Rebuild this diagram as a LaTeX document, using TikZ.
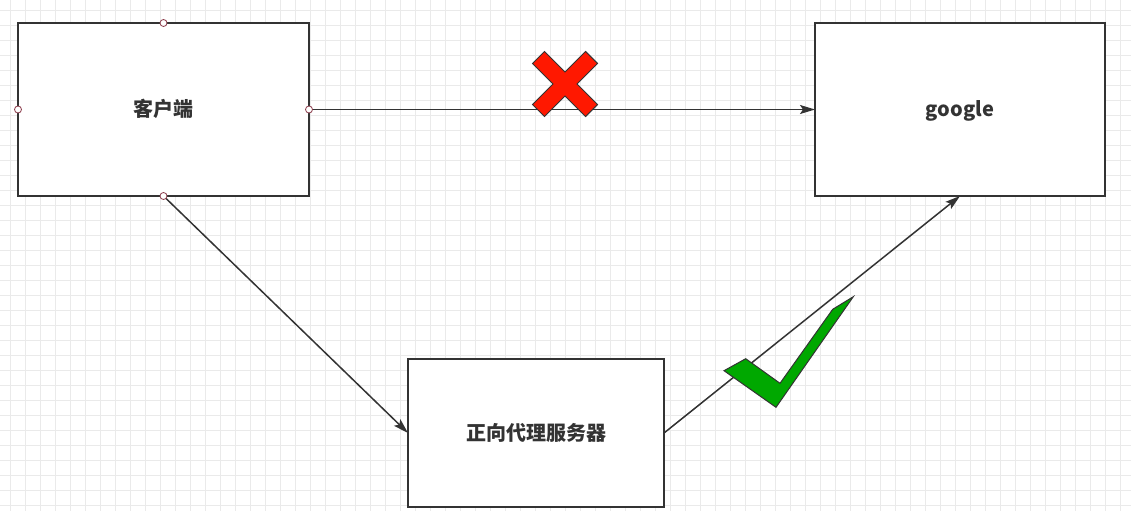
\documentclass[tikz,border=0pt]{standalone}
\usepackage{fontspec}
\setmainfont{Noto Sans CJK SC}
\usetikzlibrary{arrows.meta}

\definecolor{gridline}{RGB}{234,234,234}
\definecolor{linedark}{RGB}{51,51,51}
\definecolor{crossred}{RGB}{255,24,0}
\definecolor{checkgreen}{RGB}{0,168,0}
\definecolor{portred}{RGB}{140,60,75}

\begin{document}
\begin{tikzpicture}[x = 1pt, y = -1pt,
    box/.style = {draw = linedark, line width = 2pt, fill = white,
        inner sep = 0pt, outer sep = 0pt, text height = 17pt, text depth = 3pt,
        font = \bfseries\fontsize{20}{24}\selectfont, text = linedark},
    link/.style = {draw = linedark, line width = 1.5pt,
        -{Stealth[length = 15pt, width = 9pt, inset = 3pt]}},
    port/.style = {circle, draw = portred, fill = white, line width = 0.8pt,
        inner sep = 0pt, minimum size = 7pt}]
    \useasboundingbox (0, 0) rectangle (1131, 511);
    \fill[white] (0, 0) rectangle (1131, 511);

    % grid
    \foreach \gx in {10, 25, ..., 1130}
        \draw[gridline, line width = 0.8pt] (\gx, 0) -- (\gx, 511);
    \foreach \gy in {10, 25, ..., 510}
        \draw[gridline, line width = 0.8pt] (0, \gy) -- (1131, \gy);

    % boxes
    \node[box, minimum width = 291pt, minimum height = 173pt] (client) at (163.5, 109.5) {客户端};
    \node[box, minimum width = 290pt, minimum height = 173pt] (google) at (960, 109.5) {google};
    \node[box, minimum width = 256pt, minimum height = 148pt] (proxy) at (536, 433) {正向代理服务器};

    % connectors
    \draw[link] (client.east) -- (google.west);
    \draw[link] (client.south) -- (proxy.west);
    \draw[link] (proxy.east) -- (google.south);

    % ports of the client box
    \foreach \side in {north, south, east, west}
        \node[port] at (client.\side) {};

    % red cross
    \begin{scope}[shift = {(565, 84)}, rotate = 45]
        \filldraw[fill = crossred, draw = linedark, line width = 1pt]
            (8.5, 37.5) -- (8.5, 8.5) -- (37.5, 8.5) -- (37.5, -8.5) -- (8.5, -8.5)
            -- (8.5, -37.5) -- (-8.5, -37.5) -- (-8.5, -8.5) -- (-37.5, -8.5)
            -- (-37.5, 8.5) -- (-8.5, 8.5) -- (-8.5, 37.5) -- cycle;
    \end{scope}

    % green check
    \filldraw[fill = checkgreen, draw = linedark, line width = 1pt]
        (745.7, 358.7) -- (724, 370.7) -- (776, 407.3) -- (853.3, 296.7)
        -- (832.7, 309.3) -- (780, 383.3) -- cycle;
\end{tikzpicture}
\end{document}
